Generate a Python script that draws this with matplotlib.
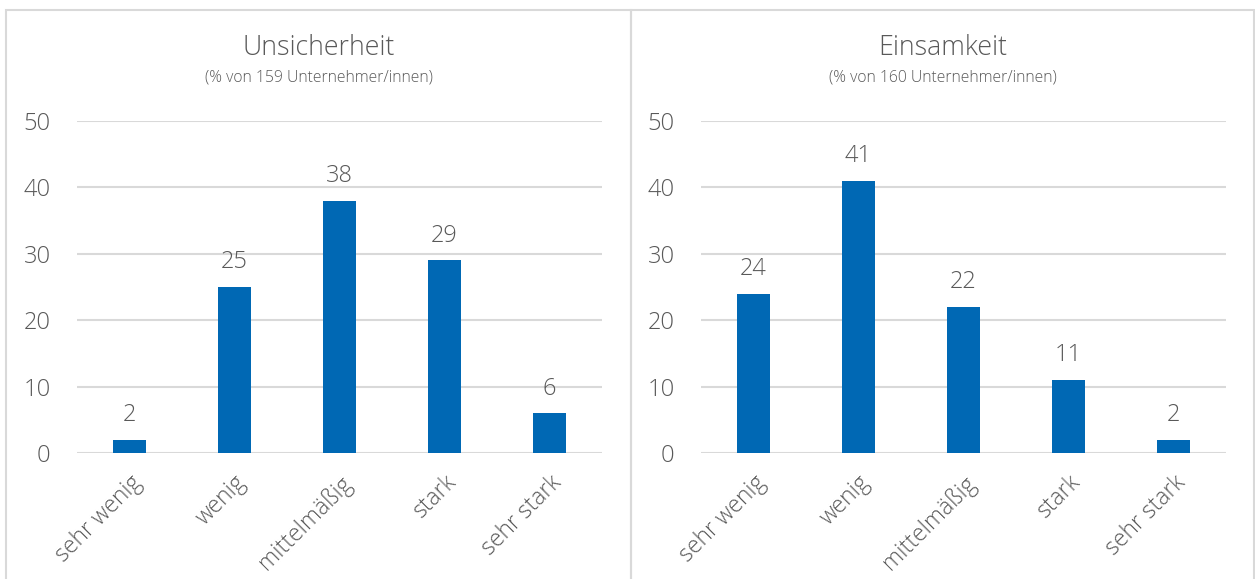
import matplotlib
matplotlib.use("Agg")
import matplotlib.pyplot as plt
from matplotlib.patches import Rectangle

categories = ["sehr wenig", "wenig", "mittelmäßig", "stark", "sehr stark"]
unsicherheit = [2, 25, 38, 29, 6]
einsamkeit = [24, 41, 22, 11, 2]
titles = ["Unsicherheit", "Einsamkeit"]
subtitles = ["(% von 159 Unternehmer/innen)", "(% von 160 Unternehmer/innen)"]
yticks = [0, 10, 20, 30, 40, 50]

plt.rcParams['font.family'] = ['Open Sans', 'DejaVu Sans']
BAR = "#0068B4"
TXT = "#595959"
GRID = "#D9D9D9"

W, H = 1255, 579
fig = plt.figure(figsize=(W / 100, H / 100), dpi=100)

# panel borders
for x0, x1 in [(6, 631), (631, 1254)]:
    fig.patches.append(Rectangle((x0 / W, -0.01), (x1 - x0) / W, (H - 10) / H + 0.01,
                                 transform=fig.transFigure, fill=False,
                                 edgecolor=GRID, linewidth=1.5))

series = [unsicherheit, einsamkeit]
axes_left = [77, 701]
panel_centers = [318.5, 943]
for i in range(2):
    ax = fig.add_axes([axes_left[i] / W, 126 / H, 525 / W, 332 / H])
    x = list(range(len(categories)))
    ax.bar(x, series[i], width=0.31, color=BAR, zorder=3)
    for xi, v in zip(x, series[i]):
        ax.annotate(str(v), (xi, v), xytext=(0, 9), textcoords="offset points",
                    ha="center", va="bottom", fontsize=17, color=TXT,
                    fontweight="light")
    ax.set_xlim(-0.5, len(categories) - 0.5)
    ax.set_ylim(0, 50)
    ax.set_yticks(yticks)
    ax.set_yticklabels([str(t) for t in yticks], fontsize=17, color=TXT,
                       fontweight="light")
    ax.yaxis.grid(True, color=GRID, linewidth=1.5, zorder=0)
    ax.set_axisbelow(True)
    for s in ax.spines.values():
        s.set_visible(False)
    ax.tick_params(axis="y", length=0, pad=19)
    ax.tick_params(axis="x", length=0, pad=13)
    ax.set_xticks(x)
    ax.set_xticklabels(categories, rotation=45, ha="right",
                       rotation_mode="anchor", fontsize=16.5, color=TXT,
                       fontweight="light")
    fig.text(panel_centers[i] / W, 1 - 48 / H, titles[i], ha="center", va="center",
             fontsize=19.3, color=TXT, fontweight="light")
    fig.text(panel_centers[i] / W, 1 - 77 / H, subtitles[i], ha="center", va="center",
             fontsize=11.3, color=TXT, fontweight="light")

fig.savefig("out.png", dpi=100)
